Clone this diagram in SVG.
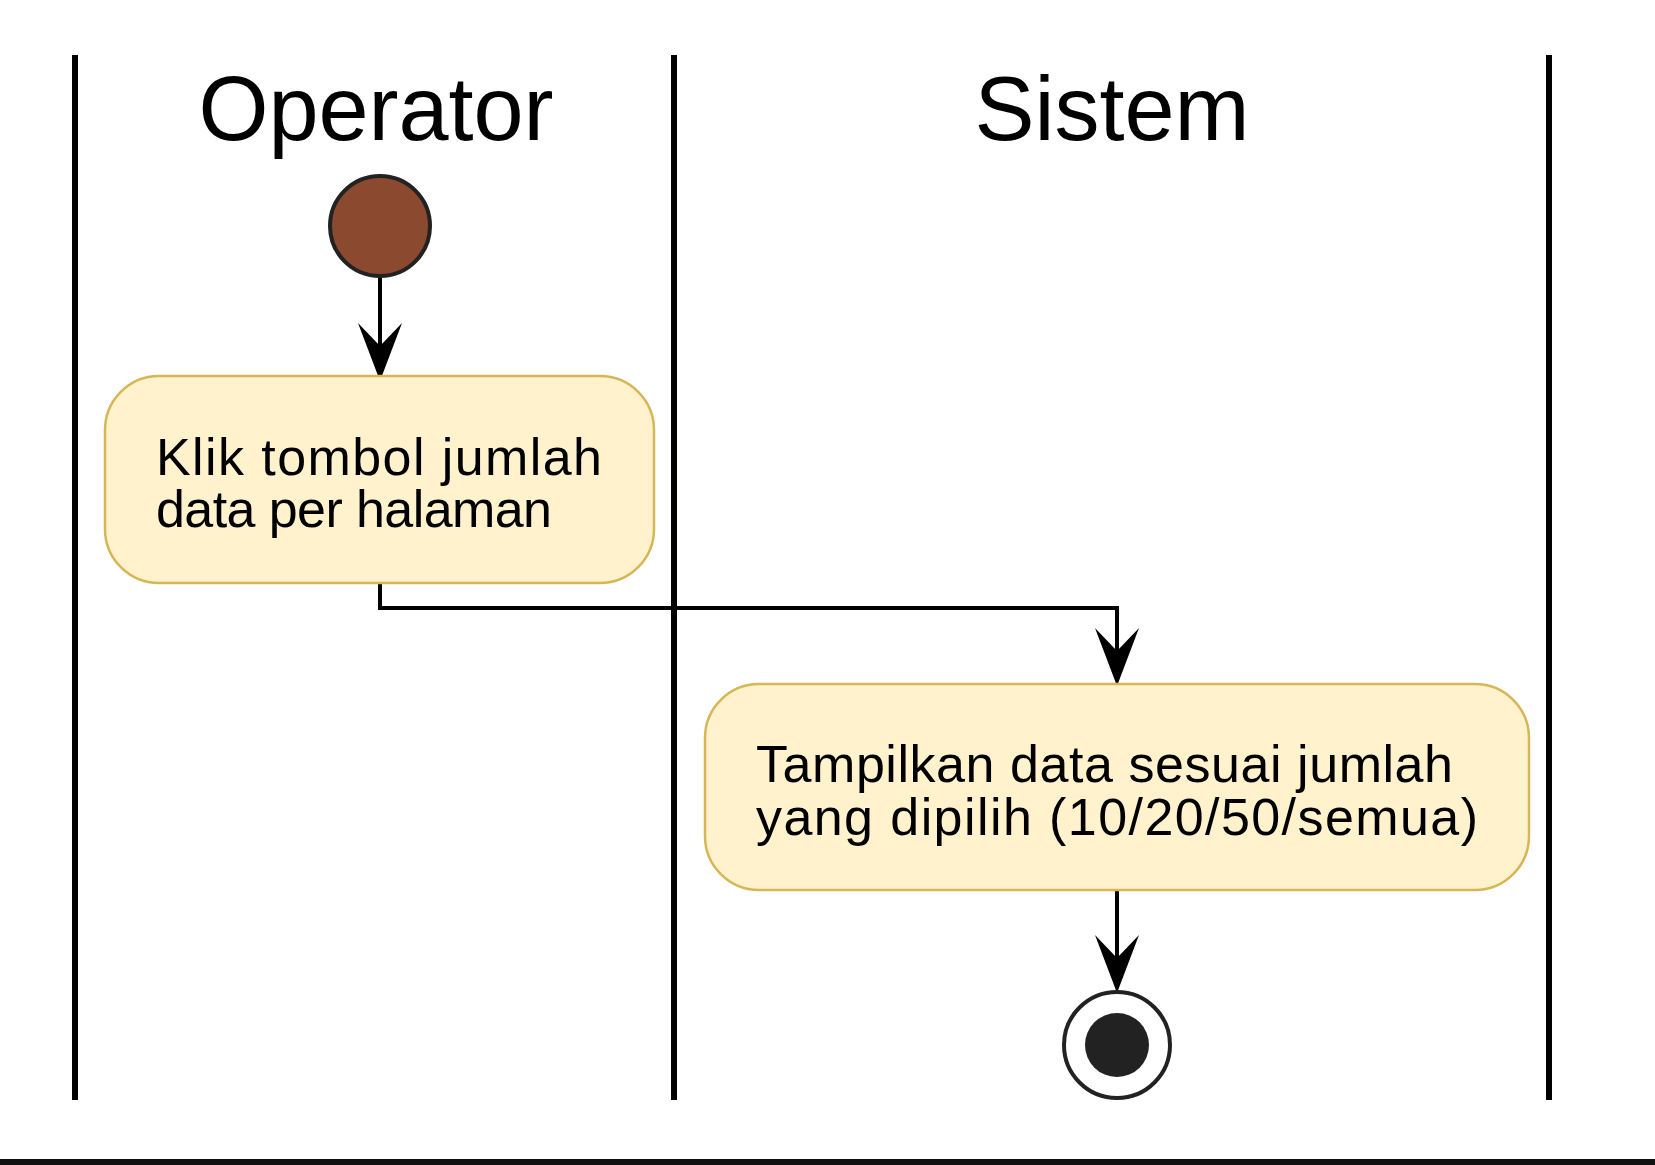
<svg xmlns="http://www.w3.org/2000/svg" width="1655" height="1165" viewBox="0 0 1655 1165">
<style>
.lane{stroke:#000;stroke-width:6;fill:none}
.title{font-family:"Liberation Sans",Arial,sans-serif;font-size:90px;fill:#000;text-anchor:middle}
.act{fill:#FFF2CC;stroke:#D6B656;stroke-width:2.5}
.lbl{font-family:"Liberation Sans",Arial,sans-serif;font-size:52px;fill:#000}
.edge{stroke:#000;stroke-width:4;fill:none}
.head{fill:#000;stroke:none}
</style>
<rect x="0" y="0" width="1655" height="1165" fill="#fff"/>
<g id="lanes">
<line class="lane" x1="75" y1="55" x2="75" y2="1100"/>
<line class="lane" x1="674" y1="55" x2="674" y2="1100"/>
<line class="lane" x1="1549" y1="55" x2="1549" y2="1100"/>
<text class="title" x="376" y="140">Operator</text>
<text class="title" x="1112" y="140">Sistem</text>
</g>
<rect x="0" y="1159" width="1655" height="6" fill="#111"/>
<g id="connectors">
<line class="edge" x1="380" y1="277" x2="380" y2="370"/>
<polygon class="head" points="380,381 358,323 380,346 402,323"/>
<polyline class="edge" points="380,583 380,608 1117,608 1117,675"/>
<polygon class="head" points="1117,686 1095,628 1117,651 1139,628"/>
<line class="edge" x1="1117" y1="890" x2="1117" y2="982"/>
<polygon class="head" points="1117,993 1095,935 1117,958 1139,935"/>
</g>
<g id="start">
<circle cx="380" cy="226" r="50" fill="#8B4A2F" stroke="#222" stroke-width="4"/>
</g>
<g id="act1">
<rect class="act" x="105" y="376" width="549" height="207" rx="54" ry="54"/>
<text class="lbl" x="156" y="475" textLength="446" lengthAdjust="spacing">Klik tombol jumlah</text>
<text class="lbl" x="156" y="527" textLength="396" lengthAdjust="spacing">data per halaman</text>
</g>
<g id="act2">
<rect class="act" x="705" y="684" width="824" height="206" rx="54" ry="54"/>
<text class="lbl" x="756" y="782" textLength="697" lengthAdjust="spacing">Tampilkan data sesuai jumlah</text>
<text class="lbl" x="756" y="835" textLength="722" lengthAdjust="spacing">yang dipilih (10/20/50/semua)</text>
</g>
<g id="end">
<circle cx="1117" cy="1045" r="53" fill="#fff" stroke="#222" stroke-width="4"/>
<circle cx="1117" cy="1045" r="32" fill="#222"/>
</g>
</svg>
